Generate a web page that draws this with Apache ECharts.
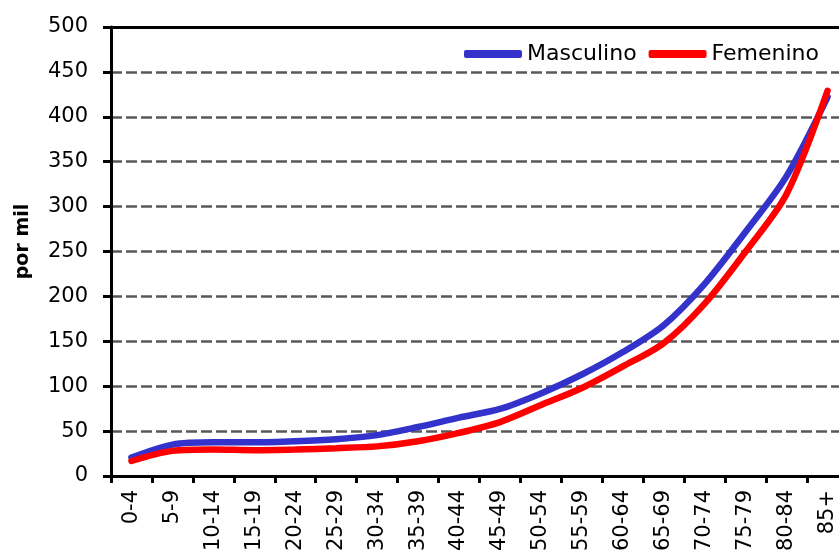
<!DOCTYPE html>
<html>
<head>
<meta charset="utf-8">
<script src="https://cdn.jsdelivr.net/npm/echarts@6/dist/echarts.min.js"></script>
<style>
  html, body { margin: 0; padding: 0; background: #fff; }
  #chart { width: 839px; height: 551px; }
</style>
</head>
<body>
<div id="chart"></div>
<script>
// Age groups (years)
const ageGroups = ['0-4', '5-9', '10-14', '15-19', '20-24', '25-29', '30-34', '35-39', '40-44',
  '45-49', '50-54', '55-59', '60-64', '65-69', '70-74', '75-79', '80-84', '85+'];

// Rate per thousand, by sex
const masculino = [20.5, 35, 37.5, 37.5, 38.7, 41, 45.5, 54.6, 65, 74.7, 92, 113, 138, 168, 214, 272, 334, 422];
const femenino = [16.7, 28, 29.5, 28.7, 29.5, 31, 33, 38.7, 48, 60, 79, 98, 122, 148, 192, 250, 314, 429];

const yTicks = { min: 0, max: 500, interval: 50 };

const chart = echarts.init(document.getElementById('chart'));
const font = 'DejaVu Sans';

chart.setOption({
  animation: false,
  backgroundColor: '#fff',
  grid: { left: 111, top: 27, width: 737, height: 449, containLabel: false, outerBoundsMode: 'none' },
  legend: {
    right: 15,
    top: 38,
    icon: 'roundRect',
    itemWidth: 58,
    itemHeight: 8,
    itemGap: 12,
    textStyle: { fontFamily: font, fontSize: 22, color: '#000' },
    data: ['Masculino', 'Femenino']
  },
  xAxis: [{
    type: 'category',
    data: ageGroups,
    boundaryGap: true,
    axisLine: { lineStyle: { color: '#000', width: 3 } },
    axisTick: { show: true, length: 7, lineStyle: { color: '#000', width: 3 } },
    axisLabel: { rotate: 90, margin: 14, fontFamily: font, fontSize: 21, color: '#000', interval: 0 },
    splitLine: { show: false }
  }, {
    type: 'category',
    data: ageGroups,
    position: 'top',
    axisLine: { lineStyle: { color: '#000', width: 3 } },
    axisTick: { show: false },
    axisLabel: { show: false },
    splitLine: { show: false }
  }],
  yAxis: {
    type: 'value',
    min: yTicks.min,
    max: yTicks.max,
    interval: yTicks.interval,
    name: 'por mil',
    nameLocation: 'middle',
    nameGap: 78,
    nameRotate: 90,
    nameTextStyle: { fontFamily: font, fontSize: 19, fontWeight: 'bold', color: '#000', padding: [0, 0, 0, 20] },
    axisLine: { show: true, lineStyle: { color: '#000', width: 3 } },
    axisTick: { show: true, length: 8, lineStyle: { color: '#000', width: 3 } },
    axisLabel: { margin: 23, fontFamily: font, fontSize: 21, color: '#000' },
    splitLine: {
      show: true,
      showMinLine: false,
      showMaxLine: false,
      lineStyle: { color: '#595959', width: 2.5, type: [11, 4] }
    }
  },
  series: [{
    name: 'Masculino',
    type: 'line',
    data: masculino,
    smooth: 0.3,
    showSymbol: false,
    color: '#3333CC',
    lineStyle: { width: 6.5, color: '#3333CC', cap: 'round' }
  }, {
    name: 'Femenino',
    type: 'line',
    data: femenino,
    smooth: 0.3,
    showSymbol: false,
    color: '#FF0000',
    lineStyle: { width: 6.5, color: '#FF0000', cap: 'round' }
  }]
});
</script>
</body>
</html>
